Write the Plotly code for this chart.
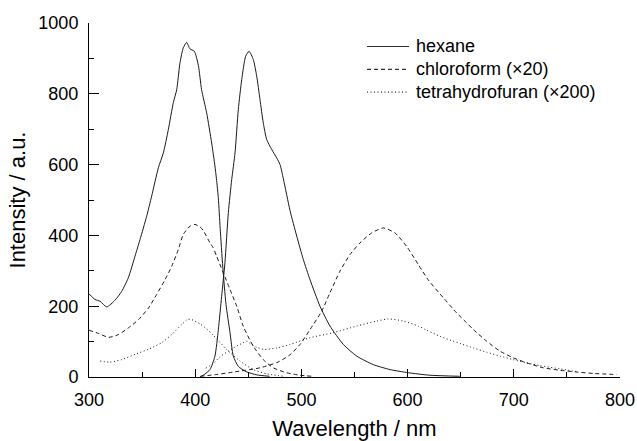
import plotly.graph_objects as go

# Excitation / emission spectra in three solvents
hex_ex_x = [300, 305.6, 310.4, 316.7, 324.5, 330.8, 337, 343.3, 348, 354.3, 359, 365.3, 370, 374.7,
            379.4, 382.6, 385.7, 388.8, 392, 395, 399.2, 403, 406, 410.8, 415.5, 418.6, 420, 421.8,
            423.5, 426, 429, 432.8, 435.9, 440.6, 448, 458, 470]
hex_ex_y = [235, 219, 214, 198, 217, 242, 280, 341, 388, 454, 511, 591, 633, 699,
            775, 812, 888, 930, 945, 927, 920, 880, 812, 746, 661, 596, 560, 505,
            420, 310, 205, 125, 59, 30, 15, 6, 2]

hex_em_x = [404.5, 409, 413.9, 418.6, 421.8, 424.9, 428, 431.2, 434.4, 437.5, 440.6, 443.8, 447.5,
            450.7, 454.7, 457.9, 461, 464.1, 467.3, 472, 476.7, 479.9, 483, 489.3, 495.6, 501.8,
            508.1, 517.5, 526.9, 539.5, 552.1, 567.7, 583.4, 600.7, 621, 649]
hex_em_y = [0, 8, 21, 59, 134, 228, 323, 464, 558, 633, 756, 840, 906,
            920, 897, 850, 784, 718, 671, 643, 619, 600, 560, 470, 398, 332,
            275, 200, 144, 92, 59, 35, 21, 12, 5, 2]

chl_ex_x = [300, 309, 318.4, 327.8, 337.2, 346.6, 356, 363.7, 371.6, 377.9, 384.1, 388.8, 395.1,
            399.8, 404.5, 407.6, 413.9, 417, 420.2, 426.5, 432.8, 439.1, 445.3, 454.7, 464.1,
            473.5, 486, 498.7, 510]
chl_ex_y = [132, 123, 112, 120, 139, 162, 195, 233, 275, 313, 360, 403, 426,
            431, 424, 414, 379, 365, 341, 294, 247, 200, 143, 87, 49,
            26, 12, 5, 2]

chl_em_x = [405, 420, 436, 461, 478, 489.3, 498.7, 508.1, 519.1, 526.9, 536.3, 545.8, 555.2, 566.2,
            577.1, 588.1, 599.1, 610, 620, 633.6, 646.2, 655.6, 661.9, 674.5, 687,
            699.6, 712.1, 727.8, 743.5, 759.2, 774.9, 796.9]
chl_em_y = [2, 7, 14, 26, 42, 63, 92, 134, 186, 238, 299, 346, 379, 407,
            421, 407, 369, 318, 272, 224, 181, 153, 134, 101, 73,
            54, 40, 26, 19, 14, 10, 7]

thf_ex_x = [310.4, 319.8, 330.8, 343.3, 355.8, 368.5, 377.9, 387.3, 393, 396.7, 404.5, 410, 417,
            429.6, 442.2, 454.7, 467.3, 483]
thf_ex_y = [45, 42, 49, 64, 78, 97, 120, 148, 163, 162, 150, 138, 118,
            78, 45, 21, 9, 2]

thf_em_x = [410, 417, 423.3, 435.9, 445.3, 449, 452, 458, 465, 476.7, 489.3, 508.1, 530, 552.1,
            570.9, 581.8, 596, 610, 618, 630.5, 643.1, 652, 661.9, 674.5, 687, 699.6,
            712.1, 724.7, 743.5, 760]
thf_em_y = [25, 38, 57, 82, 97, 101, 94, 84, 78, 82, 92, 111, 125, 144,
            158, 164, 158, 144, 132, 115, 101, 92, 82, 70, 59, 49,
            40, 32, 23, 15]

x_ticks = [300, 400, 500, 600, 700, 800]
y_ticks = [0, 200, 400, 600, 800, 1000]

FONT = "Liberation Sans, Arial, sans-serif"
INK = "#1a1a1a"

W, H = 637, 441
M = dict(l=89, r=17, t=23, b=64)
PW = W - M["l"] - M["r"]
PH = H - M["t"] - M["b"]

series = [
    ("hexane", "solid", [(hex_ex_x, hex_ex_y), (hex_em_x, hex_em_y)]),
    ("chloroform (\u00d720)", "4px,3px", [(chl_ex_x, chl_ex_y), (chl_em_x, chl_em_y)]),
    ("tetrahydrofuran (\u00d7200)", "1px,2.5px", [(thf_ex_x, thf_ex_y), (thf_em_x, thf_em_y)]),
]

fig = go.Figure()
for name, dash, curves in series:
    for xs, ys in curves:
        fig.add_trace(go.Scatter(
            x=xs, y=ys, mode="lines", name=name, showlegend=False,
            line=dict(color=INK, width=1, dash=dash, shape="spline", smoothing=0.6),
        ))

# Key in the upper right: sample line + label per solvent (pixel offsets inside the plot area)
key_line_x0, key_line_x1, key_text_x = 278, 320, 325
key_row0, key_row_step = 23.5, 22.8
for i, (name, dash, _) in enumerate(series):
    yp = 1 - (key_row0 + i * key_row_step) / PH
    fig.add_shape(type="line", xref="paper", yref="paper",
                  x0=key_line_x0 / PW, x1=key_line_x1 / PW, y0=yp, y1=yp,
                  line=dict(color="#333333", width=1.2, dash=dash))
    fig.add_annotation(xref="paper", yref="paper", x=key_text_x / PW, y=yp,
                       text=name, showarrow=False, xanchor="left", yanchor="middle",
                       font=dict(family=FONT, size=18, color="black"))

fig.update_layout(
    width=W, height=H,
    margin=M,
    paper_bgcolor="white", plot_bgcolor="white",
    font=dict(family=FONT, size=18, color="black"),
    showlegend=False,
    xaxis=dict(
        range=[300, 800], tickvals=x_ticks, showgrid=False, zeroline=False,
        showline=True, linecolor="black", linewidth=1, automargin=False,
        ticks="inside", ticklen=8, tickcolor="black", tickwidth=1,
        minor=dict(dtick=50, ticks="inside", ticklen=5, tickcolor="black", tickwidth=1, showgrid=False),
        title=dict(text="Wavelength / nm", standoff=18),
        ticklabelstandoff=6,
    ),
    yaxis=dict(
        range=[0, 1000], tickvals=y_ticks, showgrid=False, zeroline=False,
        showline=True, linecolor="black", linewidth=1, automargin=False,
        ticks="inside", ticklen=10, tickcolor="black", tickwidth=1,
        minor=dict(dtick=100, ticks="inside", ticklen=5, tickcolor="black", tickwidth=1, showgrid=False),
        title=dict(text="Intensity / a.u.", standoff=6),
        ticklabelstandoff=6,
    ),
)

fig.write_html("out.html")
